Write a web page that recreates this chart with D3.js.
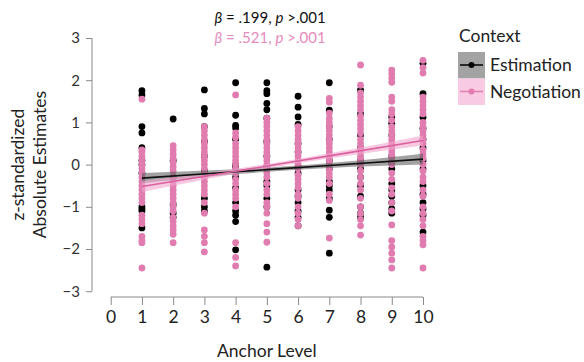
<!DOCTYPE html>
<html>
<head>
<meta charset="utf-8">
<script src="https://cdn.jsdelivr.net/npm/d3@7"></script>
<style>
  body { margin: 0; background: #fff; }
  text { font-family: Lato, "Open Sans", sans-serif; }
</style>
</head>
<body>
<script>
// anchor levels (x categories) and point values per level
const anchorLevels = [1, 2, 3, 4, 5, 6, 7, 8, 9, 10];

const estimation = [
  [1.75, 1.65, 0.9, 0.75, 0.4, 0.1, 0.0, -0.2, -1.0, -1.05, -1.1, -1.5],
  [1.08, 0.1, -0.3, -0.95, -1.15, -1.25],
  [1.77, 1.33, 1.2, 0.9, 0.55, 0.2, -0.15, -0.8, -1.0, -1.1],
  [1.94, 1.17, 0.93, 0.87, 0.6, 0.0, -0.05, -0.3, -0.55, -0.9, -1.1, -1.2, -1.35, -2.02],
  [1.94, 1.75, 1.68, 1.45, 1.3, 1.1, 0.55, 0.2, -0.05, -0.4, -0.5, -0.8, -1.0, -2.43],
  [1.62, 1.36, 1.13, 0.95, 0.5, 0.3, -0.05, -0.2, -0.6, -0.75, -0.9, -1.1, -1.25, -1.45],
  [1.94, 1.29, 0.9, 0.6, 0.1, -0.1, -0.4, -0.5, -0.6, -0.8, -1.08, -1.25, -2.1],
  [1.77, 1.2, 0.7, 0.4, 0.1, -0.1, -0.3, -0.5, -0.75, -1.0, -1.15, -1.25],
  [1.13, 0.98, 0.7, 0.2, 0.05, -0.1, -0.45, -0.6, -0.75, -0.9, -1.05, -1.15],
  [2.4, 1.68, 1.12, 0.86, 0.6, 0.4, 0.1, -0.1, -0.5, -0.7, -0.9, -1.05, -1.2, -1.6]
];

const negotiation = [
  [1.55, 0.35, 0.3, 0.2, 0.1, 0.0, -0.1, -0.2, -0.3, -0.4, -0.5, -0.6, -0.7, -0.8, -0.9, -1.2, -1.3, -1.4, -1.7, -1.8, -1.85, -2.45],
  [0.45, 0.35, 0.25, 0.15, 0.05, -0.05, -0.15, -0.3, -0.4, -0.5, -0.6, -0.7, -0.8, -0.9, -1.0, -1.1, -1.25, -1.35, -1.45, -1.55, -1.65, -1.85],
  [0.9, 0.8, 0.7, 0.6, 0.5, 0.4, 0.3, 0.2, 0.1, 0.0, -0.1, -0.2, -0.3, -0.4, -0.5, -0.6, -0.7, -0.9, -1.15, -1.55, -1.7, -1.85, -2.07],
  [1.65, 0.75, 0.65, 0.5, 0.4, 0.3, 0.2, 0.1, 0.0, -0.1, -0.2, -0.35, -0.45, -0.6, -0.7, -0.8, -1.0, -1.85, -2.2, -2.4],
  [1.1, 1.0, 0.9, 0.8, 0.7, 0.6, 0.5, 0.4, 0.3, 0.2, 0.1, 0.0, -0.1, -0.2, -0.3, -0.45, -0.6, -0.7, -0.9, -1.0, -1.15, -1.4, -1.6, -1.84],
  [0.9, 0.8, 0.7, 0.6, 0.5, 0.4, 0.3, 0.2, 0.1, 0.0, -0.1, -0.25, -0.35, -0.45, -0.55, -0.7, -0.8, -1.0, -1.15, -1.3, -1.45],
  [1.57, 1.48, 1.22, 1.1, 1.0, 0.9, 0.8, 0.7, 0.6, 0.5, 0.4, 0.3, 0.2, 0.1, 0.0, -0.1, -0.2, -0.3, -0.45, -0.7, -0.85, -1.74],
  [2.36, 1.88, 1.7, 1.6, 1.5, 1.4, 1.3, 1.15, 1.05, 0.95, 0.85, 0.75, 0.6, 0.5, 0.4, 0.3, 0.2, 0.1, 0.0, -0.15, -0.3, -0.45, -0.6, -0.8, -1.0, -1.15, -1.3, -1.45, -1.67],
  [2.24, 2.15, 2.05, 1.95, 1.6, 1.5, 1.3, 1.2, 1.05, 0.9, 0.8, 0.7, 0.6, 0.5, 0.4, 0.3, 0.2, 0.1, 0.0, -0.2, -0.35, -0.55, -0.7, -0.9, -1.1, -1.43, -1.8, -1.95, -2.1, -2.26, -2.45],
  [2.47, 2.3, 2.17, 1.6, 1.5, 1.4, 1.3, 1.2, 1.0, 0.9, 0.8, 0.7, 0.6, 0.5, 0.35, 0.25, 0.15, 0.0, -0.15, -0.3, -0.4, -0.6, -0.75, -1.0, -1.15, -1.3, -1.45, -1.7, -1.8, -1.9, -2.45]
];

// fitted lines with confidence bands
const fitX = [1, 4, 5.5, 7, 10];
const estFit = [-0.32, -0.17, -0.095, -0.02, 0.13];
const estLow = [-0.44, -0.23, -0.145, -0.08, 0.0];
const estHigh = [-0.20, -0.11, -0.045, 0.04, 0.26];
const negFit = [-0.52, -0.157, 0.025, 0.207, 0.57];
const negLow = [-0.65, -0.217, -0.025, 0.147, 0.45];
const negHigh = [-0.39, -0.097, 0.075, 0.267, 0.69];

const xTicks = [0, 1, 2, 3, 4, 5, 6, 7, 8, 9, 10];
const yTicks = [-3, -2, -1, 0, 1, 2, 3];

const pink = '#e07caf';
const width = 584, height = 362;

const svg = d3.select('body').append('svg')
  .attr('width', width)
  .attr('height', height);

const x = d3.scaleLinear().domain([0, 10]).range([110.7, 423]);
const y = d3.scaleLinear().domain([-3, 3]).range([291.2, 38]);

// axes
const xAxis = d3.axisBottom(x).tickValues(xTicks).tickSize(8).tickPadding(6);
const gx = svg.append('g').attr('transform', 'translate(0,297)').call(xAxis);
gx.select('.domain').attr('d', `M${x(0)},0H${x(10)}`);

const yAxis = d3.axisLeft(y).tickValues(yTicks).tickSize(6).tickPadding(6)
  .tickFormat(d => d < 0 ? '\u2212' + Math.abs(d) : d);
const gy = svg.append('g').attr('transform', 'translate(92,0)').call(yAxis);
gy.select('.domain').attr('d', `M0,${y(-3)}V${y(3)}`);

svg.selectAll('.domain, .tick line').attr('stroke', '#8a8a8a');
gx.selectAll('text').style('font-size', '17.5px').attr('fill', '#222');
gy.selectAll('text').style('font-size', '15px').attr('fill', '#333');

svg.append('text')
  .text('Anchor Level')
  .attr('x', x(5)).attr('y', 357)
  .attr('text-anchor', 'middle')
  .style('font-size', '17.5px').attr('fill', '#222');

const yl = svg.append('text')
  .attr('transform', `translate(24,${y(0)}) rotate(-90)`)
  .attr('text-anchor', 'middle')
  .style('font-size', '17.5px').attr('fill', '#222');
yl.append('tspan').attr('x', 0).attr('dy', 0).text('z-standardized');
yl.append('tspan').attr('x', 0).attr('dy', 22).text('Absolute Estimates');

// points: estimation behind, negotiation on top
const flat = (arr) => arr.flatMap((vals, i) => vals.map(v => ({ a: anchorLevels[i], v })));

svg.append('g').selectAll('circle')
  .data(flat(estimation))
  .enter().append('circle')
  .attr('cx', d => x(d.a))
  .attr('cy', d => y(d.v))
  .attr('r', 3.4)
  .attr('fill', '#000');

svg.append('g').selectAll('circle')
  .data(flat(negotiation))
  .enter().append('circle')
  .attr('cx', d => x(d.a))
  .attr('cy', d => y(d.v))
  .attr('r', 3.4)
  .attr('fill', pink);

// bands and fit lines
const area = d3.area().x(d => x(d[0])).y0(d => y(d[1])).y1(d => y(d[2])).curve(d3.curveMonotoneX);
const line = d3.line().x(d => x(d[0])).y(d => y(d[1]));

svg.append('path')
  .datum(fitX.map((v, i) => [v, estLow[i], estHigh[i]]))
  .attr('d', area).attr('fill', '#555').attr('opacity', 0.55);
svg.append('path')
  .datum(fitX.map((v, i) => [v, negLow[i], negHigh[i]]))
  .attr('d', area).attr('fill', '#f3a6cf').attr('opacity', 0.6);

svg.append('path')
  .datum(fitX.map((v, i) => [v, estFit[i]]))
  .attr('d', line).attr('fill', 'none').attr('stroke', '#111').attr('stroke-width', 1.6);
svg.append('path')
  .datum(fitX.map((v, i) => [v, negFit[i]]))
  .attr('d', line).attr('fill', 'none').attr('stroke', '#d9619f').attr('stroke-width', 1.6);

// stats header
const stats = [
  { b: '.199', color: '#111', yy: 23 },
  { b: '.521', color: '#e68bbd', yy: 43 }
];
stats.forEach(s => {
  const t = svg.append('text')
    .attr('x', 270).attr('y', s.yy)
    .attr('text-anchor', 'middle')
    .style('font-size', '15px')
    .attr('fill', s.color);
  t.append('tspan').style('font-style', 'italic').text('\u03b2');
  t.append('tspan').text(` = ${s.b}, `);
  t.append('tspan').style('font-style', 'italic').text('p');
  t.append('tspan').text(' >.001');
});

// legend
const legend = svg.append('g');
legend.append('text').text('Context')
  .attr('x', 459).attr('y', 42)
  .style('font-size', '17.5px').attr('fill', '#222');

const keys = [
  { label: 'Estimation', box: '#a3a3a3', col: '#000', yy: 52 },
  { label: 'Negotiation', box: '#f8cbe3', col: pink, yy: 78.5 }
];
keys.forEach(k => {
  legend.append('rect').attr('x', 458).attr('y', k.yy).attr('width', 27).attr('height', 26.5).attr('fill', k.box);
  legend.append('line').attr('x1', 460).attr('x2', 483).attr('y1', k.yy + 13).attr('y2', k.yy + 13)
    .attr('stroke', k.col).attr('stroke-width', 1.5);
  legend.append('circle').attr('cx', 471.5).attr('cy', k.yy + 13).attr('r', 3).attr('fill', k.col);
  legend.append('text').text(k.label)
    .attr('x', 490).attr('y', k.yy + 19)
    .style('font-size', '17.5px').attr('fill', '#222');
});
</script>
</body>
</html>
